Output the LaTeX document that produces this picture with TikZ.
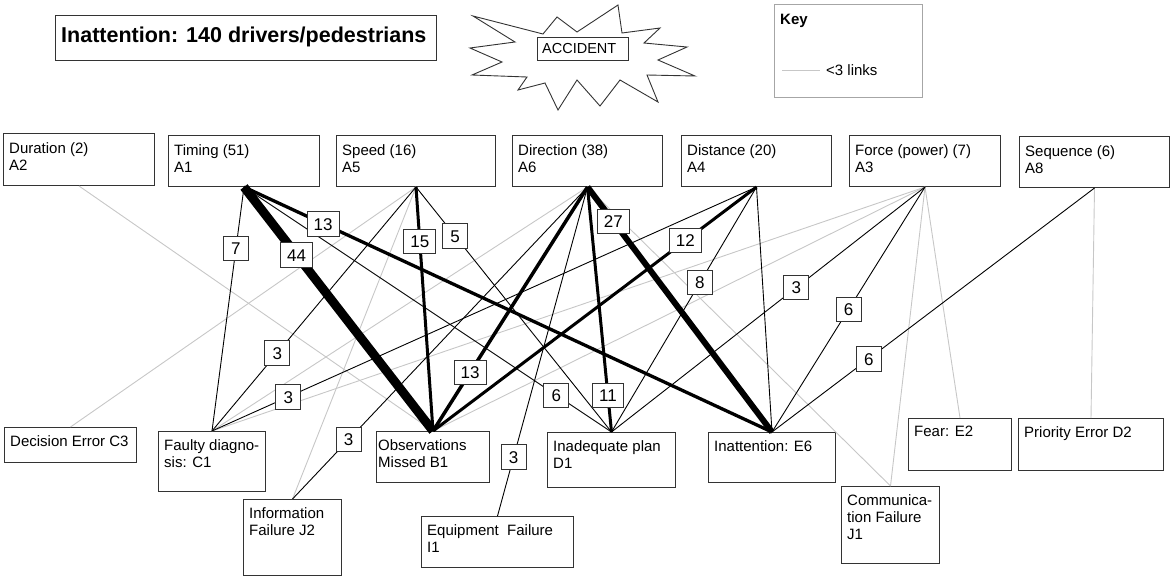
\documentclass[tikz,border=0pt]{standalone}
\usepackage{fontspec}
\setmainfont{Liberation Sans}
\usetikzlibrary{calc}
\begin{document}
\begin{tikzpicture}[x=1pt,y=-1pt,
  box/.style={draw=black!80, line width=1pt, fill=white, inner sep=0pt, anchor=north west},
  txt/.style={anchor=north west, inner sep=0pt, align=left, font=\fontsize{15}{17}\selectfont},
  gl/.style={draw=black!22, line width=0.9pt},
  bl/.style={draw=black, line width=0.9pt},
  num/.style={draw=black!80, line width=1pt, fill=white, font=\fontsize{17}{17}\selectfont, inner xsep=6.5pt, text height=12.5pt, text depth=0pt, inner ysep=6pt, minimum width=25pt}
]
\useasboundingbox (0,0) rectangle (1170,576);
% title
\node[box, line width=1.2pt, minimum width=381pt, minimum height=45pt] (title) at (55,15) {};
\node[anchor=west, inner sep=0pt, font=\fontsize{21.5}{22}\selectfont\bfseries] (titlet) at (61,37) {Inattention: 140 drivers/pedestrians};
% star
\draw[line width=0.9pt, black!80, fill=white] (473,16) -- (543,34) -- (557,17) -- (577,32) -- (618,5) -- (622,33) -- (660,28) -- (644,43) -- (687,47) -- (658,60) -- (695,76) -- (647,75) -- (658,102) -- (620,80) -- (600,106) -- (577,80) -- (558,110) -- (545,83) -- (518,90) -- (527,77) -- (472,75) -- (502,62) -- (470,48) -- (515,42) -- cycle;
\node[box, minimum width=91pt, minimum height=23pt] (acc) at (537,37) {};
\node[anchor=west, inner sep=0pt, font=\fontsize{14.5}{15}\selectfont] (acct) at (542,48.5) {ACCIDENT};
% key
\node[box, draw=black!35, minimum width=148pt, minimum height=93pt] (key) at (774,4) {};
\node[anchor=west, inner sep=0pt, font=\fontsize{15}{15}\selectfont\bfseries] (keyt) at (780,21) {Key};
\coordinate (k1) at (782,70);
\coordinate (k2) at (820,70);
\draw[gl] (k1) -- (k2);
\node[anchor=west, inner sep=0pt, font=\fontsize{15}{15}\selectfont] (keyl) at (826,70) {<3 links};
% top boxes
\node[box, minimum width=151pt, minimum height=52pt] (A2) at (3,133) {};
\node[box, minimum width=151pt, minimum height=51pt] (A1) at (168,135) {};
\node[box, minimum width=159pt, minimum height=51pt] (A5) at (336,135) {};
\node[box, minimum width=150pt, minimum height=51pt] (A6) at (512,135) {};
\node[box, minimum width=150pt, minimum height=51pt] (A4) at (681,135) {};
\node[box, minimum width=151pt, minimum height=51pt] (A3) at (849,135) {};
\node[box, minimum width=150pt, minimum height=51pt] (A8) at (1019,136) {};
% bottom boxes
\node[box, minimum width=132pt, minimum height=35pt] (C3) at (4,427) {};
\node[box, minimum width=107pt, minimum height=60pt] (C1) at (158,431) {};
\node[box, minimum width=98pt, minimum height=76pt] (J2) at (243,499) {};
\node[box, minimum width=113pt, minimum height=51pt] (B1) at (376,431) {};
\node[box, minimum width=152pt, minimum height=51pt] (I1) at (421,516) {};
\node[box, minimum width=128pt, minimum height=55pt] (D1) at (547,432) {};
\node[box, minimum width=127pt, minimum height=50pt] (E6) at (708,432) {};
\node[box, minimum width=103pt, minimum height=52pt] (E2) at (908,418) {};
\node[box, minimum width=145pt, minimum height=52pt] (D2) at (1018,418) {};
\node[box, minimum width=98pt, minimum height=77pt] (J1) at (841,486) {};
% gray links
\draw[gl] (A2.south) -- (B1.north);
\draw[gl] (A5.south) -- (C3.north);
\draw[gl] (A5.south) -- (J2.north);
\draw[gl] (A6.south) -- (C1.north);
\draw[gl] (A6.south) -- (J1.north);
\draw[gl] (A3.south) -- (C1.north);
\draw[gl] (A3.south) -- (B1.north);
\draw[gl] (A3.south) -- (E2.north);
\draw[gl] (A3.south) -- (J1.north);
\draw[gl] (A8.south) -- (D2.north);
% black links
\draw[bl] (A1.south) -- (C1.north);
\draw[bl] (A1.south) -- (D1.north);
\draw[bl] (A5.south) -- (D1.north);
\draw[bl] (A5.south) -- (C1.north);
\draw[bl] (A6.south) -- (I1.north);
\draw[bl] (A6.south) -- (J2.north);
\draw[bl] (A4.south) -- (D1.north);
\draw[bl] (A4.south) -- (C1.north);
\draw[bl] (A4.south) -- (E6.north);
\draw[bl] (A3.south) -- (D1.north);
\draw[bl] (A3.south) -- (E6.north);
\draw[bl] (A8.south) -- (E6.north);
\draw[bl, line width=3.3pt] (A1.south) -- (E6.north);
\draw[bl, line width=3pt] (A5.south) -- (B1.north);
\draw[bl, line width=3.5pt] (A6.south) -- (B1.north);
\draw[bl, line width=3pt] (A6.south) -- (D1.north);
\draw[bl, line width=3pt] (A4.south) -- (B1.north);
\draw[bl, line width=6pt] (A6.south) -- (E6.north);
\draw[bl, line width=9pt] (A1.south) -- (B1.north);
% labels
\node[num] (n7) at ($(A1.south)!0.253!(C1.north)$) {7};
\node[num] (n44) at ($(A1.south)!0.278!(B1.north)$) {44};
\node[num] (n13a) at ($(A1.south)!0.15!(E6.north)$) {13};
\node[num] (n6a) at ($(A1.south)!0.85!(D1.north)$) {6};
\node[num] (n15) at ($(A5.south)!0.224!(B1.north)$) {15};
\node[num] (n5) at ($(A5.south)!0.2!(D1.north)$) {5};
\node[num] (n3a) at ($(A5.south)!0.68!(C1.north)$) {3};
\node[num] (n27) at ($(A6.south)!0.14!(E6.north)$) {27};
\node[num] (n13b) at ($(A6.south)!0.76!(B1.north)$) {13};
\node[num] (n11) at ($(A6.south)!0.85!(D1.north)$) {11};
\node[num] (n3b) at ($(A6.south)!0.81!(J2.north)$) {3};
\node[num] (n3c) at ($(A6.south)!0.82!(I1.north)$) {3};
\node[num] (n12) at ($(A4.south)!0.22!(B1.north)$) {12};
\node[num] (n8) at ($(A4.south)!0.39!(D1.north)$) {8};
\node[num] (n3d) at ($(A4.south)!0.86!(C1.north)$) {3};
\node[num] (n3e) at ($(A3.south)!0.41!(D1.north)$) {3};
\node[num] (n6b) at ($(A3.south)!0.5!(E6.north)$) {6};
\node[num] (n6c) at ($(A8.south)!0.7!(E6.north)$) {6};
% box texts
\node[txt] (A2t) at ([xshift=6pt,yshift=-9pt]A2.north west) {Duration (2)\\A2};
\node[txt] (A1t) at ([xshift=6pt,yshift=-9pt]A1.north west) {Timing (51)\\A1};
\node[txt] (A5t) at ([xshift=6pt,yshift=-9pt]A5.north west) {Speed (16)\\A5};
\node[txt] (A6t) at ([xshift=6pt,yshift=-9pt]A6.north west) {Direction (38)\\A6};
\node[txt] (A4t) at ([xshift=6pt,yshift=-9pt]A4.north west) {Distance (20)\\A4};
\node[txt] (A3t) at ([xshift=6pt,yshift=-9pt]A3.north west) {Force (power) (7)\\A3};
\node[txt] (A8t) at ([xshift=6pt,yshift=-9pt]A8.north west) {Sequence (6)\\A8};
\node[txt] (C3t) at ([xshift=6pt,yshift=-8pt]C3.north west) {Decision Error C3};
\node[txt] (C1t) at ([xshift=6pt,yshift=-8pt]C1.north west) {Faulty diagno-\\sis: C1};
\node[txt] (J2t) at ([xshift=6pt,yshift=-8pt]J2.north west) {Information\\Failure J2};
\node[txt] (B1t) at ([xshift=2pt,yshift=-8pt]B1.north west) {Observations\\Missed B1};
\node[txt] (I1t) at ([xshift=6pt,yshift=-8pt]I1.north west) {Equipment~ Failure\\I1};
\node[txt] (D1t) at ([xshift=6pt,yshift=-8pt]D1.north west) {Inadequate plan\\D1};
\node[txt] (E6t) at ([xshift=6pt,yshift=-8pt]E6.north west) {Inattention: E6};
\node[txt] (E2t) at ([xshift=6pt,yshift=-8pt]E2.north west) {Fear: E2};
\node[txt] (D2t) at ([xshift=6pt,yshift=-8pt]D2.north west) {Priority Error D2};
\node[txt] (J1t) at ([xshift=6pt,yshift=-8pt]J1.north west) {Communica-\\tion Failure\\J1};
\end{tikzpicture}
\end{document}
